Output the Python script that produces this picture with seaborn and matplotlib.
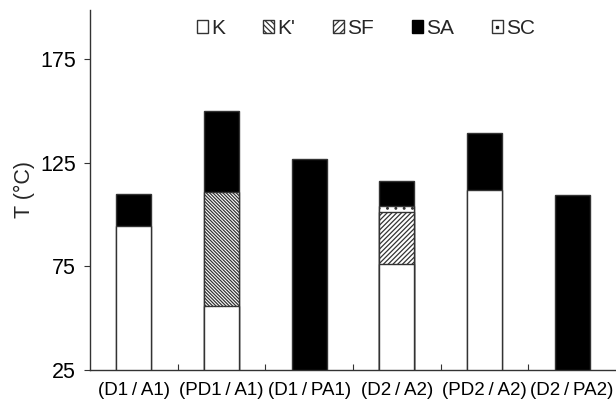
import matplotlib
matplotlib.use("Agg")
import matplotlib.pyplot as plt
from matplotlib.patches import Patch
from matplotlib.lines import Line2D
import seaborn as sns
import numpy as np
import pandas as pd

# Compounds on the x axis
compounds = ["(D1\u2009/\u2009A1)", "(PD1\u2009/\u2009A1)", "(D1\u2009/\u2009PA1)",
             "(D2\u2009/\u2009A2)", "(PD2\u2009/\u2009A2)", "(D2\u2009/\u2009PA2)"]

# Upper temperature bound (°C) of each phase; NaN where the phase does not occur
k_top  = [94.5, 56.0, np.nan, 76.3, 111.7, np.nan]   # crystal K
kp_top = [np.nan, 111.0, np.nan, np.nan, np.nan, np.nan]  # crystal K'
sf_top = [np.nan, np.nan, np.nan, 101.2, np.nan, np.nan]  # smectic F
sc_top = [np.nan, np.nan, np.nan, 104.3, np.nan, np.nan]  # smectic C
sa_top = [110.0, 150.0, 127.0, 116.0, 139.6, 109.2]   # smectic A (clearing)

y_ticks = [25, 75, 125, 175]

sns.set_theme(style="white")
plt.rcParams["font.family"] = ["Liberation Sans", "DejaVu Sans"]
plt.rcParams["hatch.linewidth"] = 0.9
plt.rcParams["hatch.color"] = "#222222"

fig = plt.figure(figsize=(6.16, 4.01), dpi=100)
ax = fig.add_axes([0.146, 0.078, 0.854, 0.898])

df = pd.DataFrame({"compound": compounds, "K": k_top, "K'": kp_top,
                   "SF": sf_top, "SC": sc_top, "SA": sa_top})

# Layers drawn from the highest boundary downward so lower phases cover upper ones
layers = [
    ("SA", "black", None),
    ("SC", "white", ".."),
    ("SF", "white", "/" * 7),
    ("K'", "white", "\\" * 10),
    ("K", "white", None),
]
for col, face, hatch in layers:
    sns.barplot(data=df, x="compound", y=col, order=compounds, color=face,
                saturation=1, width=0.4, edgecolor="#333333", linewidth=1.0,
                hatch=hatch, ax=ax, errorbar=None)

ax.set_ylim(25, 199)
ax.set_xlim(-0.5, 5.5)
ax.set_yticks(y_ticks)
ax.set_yticklabels([str(v) for v in y_ticks], fontsize=15.5)
ax.set_xticks(range(len(compounds)))
ax.set_xticklabels(compounds, fontsize=13.5)
ax.set_xticks(np.arange(0.5, len(compounds) - 0.5, 1.0), minor=True)
ax.tick_params(axis="x", which="major", length=0, pad=9, colors="black")
ax.tick_params(axis="x", which="minor", direction="in", length=4, width=0.8,
               color="#333333", bottom=True)
ax.tick_params(axis="y", direction="out", length=4, width=0.8, left=True,
               color="#333333", pad=6, colors="black")
ax.set_xlabel("")
ax.set_ylabel("T (°C)", fontsize=15.5, labelpad=4)

sns.despine(ax=ax, top=True, right=True)
for side in ("left", "bottom"):
    ax.spines[side].set_color("#333333")
    ax.spines[side].set_linewidth(1.0)

# Legend keys: small squares, the SC key carrying a single centred dot
sc_key = (Patch(facecolor="white", edgecolor="#333333"),
          Line2D([], [], marker="s", markersize=1.6, color="#222222", linestyle="none"))
handles = [
    Patch(facecolor="white", edgecolor="#333333"),
    Patch(facecolor="white", edgecolor="#333333", hatch="\\" * 6),
    Patch(facecolor="white", edgecolor="#333333", hatch="/" * 5),
    Patch(facecolor="black", edgecolor="black"),
    sc_key,
]
labels = ["K", "K'", "SF", "SA", "SC"]
fig.legend(handles=handles, labels=labels, ncol=5, frameon=False, fontsize=15,
           loc="center", bbox_to_anchor=(366 / 616, 1 - 28 / 401),
           handlelength=0.55, handleheight=0.6, handletextpad=0.15,
           columnspacing=1.8, borderaxespad=0, borderpad=0)

fig.savefig("out.png", dpi=100)
